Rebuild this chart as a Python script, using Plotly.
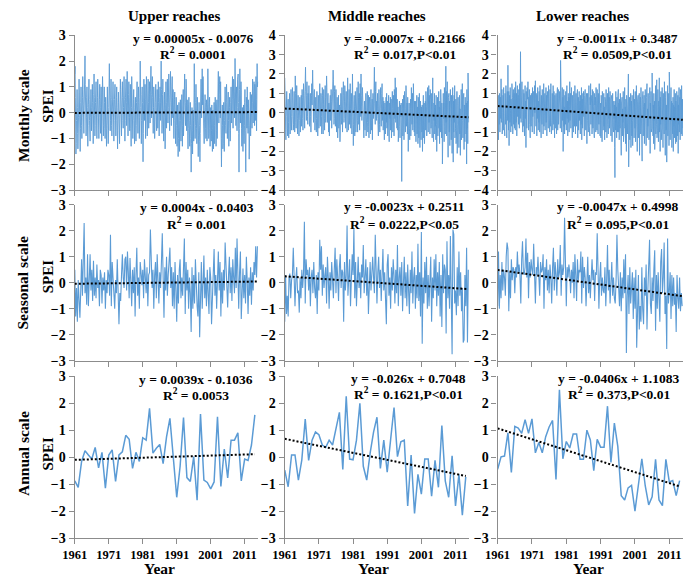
import plotly.graph_objects as go

W, H = 685, 584

# ---------------- data ----------------
years_annual = list(range(1961, 2015))

upper_annual = [-0.88, -1.12, -0.16, 0.24, 0.08, -0.07, 0.36, -0.40, 0.18, -1.15,
                0.08, 0.27, -0.90, 0.08, 0.20, 0.81, 0.66, -0.42, 0.18, -0.16,
                0.72, 0.63, 1.81, 0.15, 0.33, 0.47, -0.24, 0.75, 1.44, 0.00,
                -1.49, -0.34, 1.47, -0.76, -0.90, 0.02, -1.60, 1.60, -0.85, -0.94,
                -1.18, -0.92, 1.50, -1.09, 0.30, -0.77, 0.63, 0.63, 0.90, -0.88,
                -0.07, -0.12, 0.45, 1.57]
middle_annual = [-0.48, -1.10, 0.08, 0.08, -0.85, -0.10, 1.41, -0.12, 0.63, 0.93,
                 0.83, 0.45, 0.36, 0.63, 0.45, 1.11, 1.66, -0.46, 2.26, -0.07,
                 -0.10, 0.63, 2.00, -0.34, -0.85, 0.15, 0.93, 1.48, -0.42, 0.63,
                 -0.56, 0.65, 1.84, 0.02, 0.57, 0.63, -1.81, 0.08, -2.09, -0.64,
                 -1.37, -0.07, -0.07, -1.45, -0.12, -1.12, 1.17, -0.88, -1.49, 0.05,
                 -1.81, -0.64, -2.15, -0.73]
lower_annual = [-0.45, 0.01, 0.04, 0.90, -0.57, 1.14, 1.08, 0.88, 1.39, 0.88,
                1.42, 0.16, 0.54, 0.16, 0.76, 1.12, 1.36, -0.83, 2.50, -0.06,
                0.58, 0.34, 0.86, 0.86, -0.08, -0.08, 1.00, 0.64, -0.50, 0.66,
                0.37, 0.37, 1.89, -0.20, 1.26, 0.40, -1.43, -1.59, -1.14, -1.05,
                -2.00, -0.92, -0.06, -1.07, -1.77, -1.47, -0.08, -1.59, -1.80, -0.08,
                -0.92, -0.87, -1.43, -0.87]

upper_seasonal = [
    0.5, -1.3, -0.2, -1.5,  0.1, -0.6, -1.35, -0.3,  0.9, -0.5, 1.5, 2.3,  -0.4, 0.2, -0.85, 1.1,
    -0.9, 0.3, 1.1, -0.3,  0.5, -0.7, 0.85, -0.5,  0.2, -0.6, 0.7, -0.2,  0.1, -0.9, 0.5, 0.3,
    -0.8, 0.2, -0.3, 0.4,  -1.0, 0.1, -0.4, 0.5,  0.3, -0.5, 1.85, -0.9,  0.8, 0.2, -0.6, -1.0,
    0.1, -0.4, 0.9, -0.6,  -1.6, -0.4, -0.7, 0.3,  1.1, 0.2, -0.2, 0.9,  1.0, -0.3, 1.2, 0.4,
    -0.6, 0.95, 0.1, -0.9,  0.5, -0.4, 0.6, -1.3,  0.3, 1.35, -0.5, 0.2,  -1.0, 0.8, 0.4, -0.1,
    0.5, -0.6, 0.9, 0.2,  -0.4, 0.6, -0.9, 0.3,  0.4, 2.05, 0.9, -0.2,  0.5, -1.0, 0.3, 0.8,
    -0.6, 1.1, 0.1, -0.8,  0.4, -0.2, 0.8, 1.9,  0.2, -1.35, 0.6, -0.3,  1.0, -0.5, 0.3, 0.9,
    1.35, -0.2, 0.6, -0.9,  0.4, -1.0, 0.8, -0.3,  -1.5, 0.3, -0.8, 0.5,  0.9, -0.6, 0.2, -0.5,
    0.3, 1.7, -1.2, 0.8,  -0.3, 0.5, -1.0, 0.2,  -0.4, -1.9, 0.6, -1.0,  0.3, -0.8, 0.9, -0.2,
    -0.9, -1.3, 0.4, -2.1,  -0.5, 0.8, -1.0, 0.3,  1.05, -0.6, 0.2, -0.9,  0.5, -0.4, -1.2, 0.6,
    0.2, -1.6, -0.7, 0.4,  1.3, -0.5, 0.3, -1.0,  0.6, 1.2, -0.3, 0.8,  -1.3, 0.4, -0.8, 0.5,
    -0.3, 1.55, 0.7, -0.5,  -0.95, 0.3, 1.0, -0.4,  0.6, -0.7, 0.9, 0.2,  -0.4, 1.35, -0.2, 1.7,
    -0.05, -1.0, 0.4, 1.2,  -1.4, 0.1, 0.55, -0.6,  0.3, -0.8, 1.0, 0.1,  -1.2, 0.2, -0.5, 0.6,
    -0.85, 0.4, -0.3, 0.8,  0.3, 1.4, 0.2, 1.4]
middle_seasonal = [
    -1.5, 0.3, -1.2, -0.5,  -1.3, 0.2, 0.35, -0.6,  0.1, 0.3, 1.35, -0.3,  -0.9, 0.1, 0.6, -0.4,
    -0.3, -1.15, 0.2, -0.6,  0.5, -0.2, 0.4, 2.35,  -0.8, 0.9, 0.3, 0.5,  -0.3, 0.6, -0.9, 0.2,
    0.5, -0.4, 0.8, -0.2,  -0.6, 0.3, -1.2, 0.4,  -0.3, 1.65, 0.5, 1.4,  -0.5, 0.7, -0.2, 0.3,
    0.6, -0.8, 1.0, 0.2,  -1.0, 0.4, -0.3, 0.8,  0.1, -0.6, 0.5, 1.35,  -0.4, 0.9, 0.2, -0.7,
    0.6, 1.1, -0.2, 0.5,  0.4, -1.5, 0.8, -0.3,  0.3, 2.2, -0.5, 0.6,  0.9, -0.9, 0.4, 1.1,
    0.3, 2.1, -0.6, 0.8,  -0.9, 0.5, 1.0, -0.2,  0.4, -0.6, 0.7, 0.2,  1.45, -0.4, 0.3, 0.9,
    -0.5, 0.6, -1.2, 0.3,  0.8, -0.3, 0.5, 1.0,  0.2, -0.4, 1.85, 0.6,  -0.8, 0.4, 1.0, -0.2,
    0.5, -0.7, 0.3, 1.3,  -0.3, 0.4, -0.6, -1.6,  0.7, 1.1, -0.5, 0.2,  -1.0, 0.6, -0.3, 0.9,
    0.3, -0.8, 0.5, -0.4,  1.45, -0.9, 0.2, 0.6,  -0.5, 0.8, -1.1, 0.3,  1.0, -0.6, 0.4, -0.9,
    0.7, -0.3, -1.2, 0.5,  -0.4, 1.2, -0.8, 0.2,  0.6, -1.0, 0.3, -0.6,  1.5, -0.7, 0.4, -1.3,
    1.95, -2.35, 0.2, -0.8,  0.8, -0.4, 1.0, -1.0,  0.3, -0.9, 0.6, 1.0,  -1.5, 0.2, -0.6, 0.9,
    -0.3, 1.1, -0.9, 0.4,  -0.5, 0.8, -1.3, 0.3,  -1.7, 1.1, -0.4, 0.7,  0.5, -1.95, 1.6, -0.6,
    0.3, -1.0, 1.8, -0.4,  -2.75, 2.05, 1.85, -0.8,  -0.3, -1.25, 0.6, -0.9,  1.2, -0.5, 0.4, -1.1,
    -0.2, -2.3, -2.2, 0.3,  -0.9, 1.35, -2.3, 0.5]
lower_seasonal = [
    -0.9, 1.2, -1.0, 0.3,  -0.6, 0.8, -0.3, 0.5,  0.2, -0.5, 1.0, 1.55,  1.3, -1.1, 0.4, -0.6,
    0.9, 0.1, 0.6, 0.5,  -0.4, 0.6, 0.2, 1.2,  0.4, 0.7, 0.3, -0.8,  0.9, 1.6, 0.4, 0.3,
    0.6, 1.7, 0.2, 1.15,  -0.6, 0.8, 0.2, 0.9,  0.5, 0.3, 1.5, -0.4,  -0.8, 0.6, 0.3, 1.0,
    0.2, -0.5, 0.8, 0.4,  0.5, 1.1, -1.0, 0.6,  0.1, 0.9, -0.3, 0.5,  -0.4, 0.7, 0.2, -0.8,
    0.6, 1.35, -0.3, 0.8,  0.3, -0.5, 0.9, 0.2,  0.4, 1.45, -0.5, 0.7,  0.3, 0.6, 2.5, 0.2,
    -0.9, 0.6, 0.2, 0.7,  0.4, -0.4, 0.5, 0.0,  0.8, -0.6, 1.1, 0.3,  -0.7, 0.9, 0.1, 0.5,
    0.4, 1.2, -0.8, 1.0,  -0.2, 0.6, 0.2, -0.9,  0.7, 1.0, -0.4, 0.3,  -0.6, 0.5, 0.9, 0.1,
    0.5, -0.7, 0.4, 0.3,  1.9, 0.5, -1.0, 0.2,  0.8, -0.5, 0.2, -0.3,  -0.4, 0.6, -0.9, 0.1,
    1.45, -0.3, 0.5, -0.8,  0.3, 0.8, -0.5, 0.2,  -0.6, -0.8, 0.1, 1.85,  0.5, -0.3, -0.9, 0.4,
    -1.1, 0.2, -0.6, 0.9,  -0.4, 1.1, -2.7, -0.5,  0.3, -1.2, 0.6, -0.8,  -0.3, 0.4, -1.4, 0.2,
    -1.0, 0.5, -2.5, -0.6,  0.3, -1.8, -0.9, -1.5,  0.6, -1.0, -1.6, 0.2,  -0.5, 0.7, -1.8, -0.3,
    0.4, 1.65, -0.8, -1.2,  0.2, -0.7, 0.5, 1.25,  -1.85, 0.3, -1.0, 0.4,  -0.6, -1.5, 0.8, 1.3,
    -0.4, 0.2, 1.55, -1.2,  -0.5, -2.55, 1.7, -0.8,  -0.3, 0.4, -1.4, 0.3,  -0.9, 0.2, -0.85, -0.4,
    -1.9, 0.3, -0.6, -1.0,  0.2, -1.1, -0.4, -0.9]

upper_monthly = [
    1.5, 1.8, 0.6, -0.4, -1.6, -1.2, -0.3, 0.5, 0.9, 0.2, -0.8, -1.4,
    -0.9, -0.2, 0.7, 1.3, 0.8, -0.1, -0.9, -1.5, -0.6, 0.4, 1.0, 0.3,
    -0.5, -1.0, -0.2, 0.6, 1.4, 0.9, 0.3, -0.3, -0.8, 0.1, 1.2, 0.7,
    2.2, 1.1, 0.4, -0.4, -0.9, -0.2, 0.6, 1.0, 0.2, -0.6, -1.3, -0.5,
    0.3, 0.8, 1.3, 0.5, -0.3, -0.8, -1.1, -0.2, 0.5, 0.9, 0.2, -0.7,
    -0.3, 0.6, 1.1, 0.4, -0.6, -1.2, -0.4, 0.7, 1.5, 0.6, -0.1, -0.9,
    -0.5, 0.4, 0.9, 1.2, 0.3, -0.8, -1.0, -0.2, 0.6, 1.3, 0.8, 0.1,
    -0.7, -1.0, -0.2, 0.5, 1.1, 0.6, -0.4, -0.8, 0.2, 1.0, 0.3, -1.1,
    -0.3, 0.7, 1.4, 0.8, -0.2, -0.9, -0.5, 0.3, 1.0, 0.4, -0.6, -1.0,
    -0.4, 0.6, 0.2, -0.8, -1.3, -0.6, 0.4, 1.0, 0.3, -0.5, -1.2, -0.7,
    0.2, 0.9, 1.9, 1.0, 0.3, -0.7, -0.3, 0.6, 1.3, 0.5, -0.5, -0.9,
    -0.2, 0.4, 1.0, 1.2, 0.5, -0.6, -1.1, -0.3, 0.5, 0.9, 1.1, 0.3,
    -0.4, -0.9, -0.3, 0.6, 1.0, 0.2, -0.6, -1.4, -0.7, 0.1, 0.8, 0.4,
    -0.1, -0.7, -1.2, -0.4, 0.5, 1.3, 0.9, 0.1, -0.5, -0.9, 0.3, 1.0,
    1.2, 0.6, -0.3, -0.6, 0.2, 0.8, 1.4, 0.5, -0.4, -1.1, -0.3, 0.6,
    0.9, 1.3, 0.4, -0.5, 0.2, 1.6, 1.0, 0.3, -0.9, -0.2, 0.7, 1.2,
    0.6, -0.2, -0.7, 0.3, 1.1, 0.9, -0.6, -1.3, 0.2, 1.4, 0.8, 0.1,
    -0.6, -1.0, -0.3, 0.5, 0.9, 0.2, -0.8, -1.2, -0.4, 0.3, 0.6, -0.4,
    -1.1, -0.5, 0.4, 0.9, 1.2, 0.3, -0.6, -0.8, 0.5, 1.0, 0.4, -0.3,
    -1.0, -0.2, 0.6, 2.0, 1.0, 0.2, -0.5, -1.2, -0.3, 0.7, 1.0, 0.4,
    -0.6, -1.9, -0.8, 0.3, 1.3, 0.6, -0.3, 0.2, 1.1, 0.5, -1.0, -0.2,
    0.5, 1.4, 0.8, -0.4, -0.9, 0.1, 1.0, 1.3, 0.4, -0.6, -0.2, 0.7,
    1.2, 0.1, -0.4, 0.8, 1.5, 1.8, 0.7, -0.2, 0.3, 1.1, 1.4, 0.6,
    -0.3, -0.8, 0.2, 1.0, 0.6, -0.1, -1.0, -0.6, 0.4, 0.8, 1.1, 0.2,
    -0.5, -0.7, 0.3, 0.9, 0.1, -0.6, 0.5, 1.2, 0.4, -0.2, -0.9, 0.0,
    0.6, 1.0, 0.4, -0.3, 0.8, 2.0, 0.9, 0.1, -0.8, -0.4, 0.7, 1.3,
    0.3, -0.5, -1.1, -0.4, 0.5, 0.8, -0.2, -1.4, -0.6, 0.3, 1.2, 0.4,
    -0.6, -0.3, 0.6, 1.3, 0.9, -0.4, 0.2, 0.8, 1.5, 0.7, -0.3, -0.7,
    0.4, 1.1, 1.6, 0.8, 0.2, -0.5, 0.3, 1.0, 1.4, 0.6, -0.2, 0.9,
    0.3, -0.4, -1.0, -0.3, 0.5, 0.8, 0.1, -0.8, -1.2, -0.2, 0.6, 0.3,
    -0.5, -1.3, -0.6, 0.3, -0.4, -1.7, -1.0, -0.2, 0.4, -0.3, -1.5, -0.9,
    -0.2, 0.5, -0.3, -1.1, -0.6, 0.2, 0.7, -0.4, -1.3, -0.5, 0.3, 0.9,
    -0.9, -0.3, 0.4, 1.2, 1.5, 0.6, -0.2, -0.5, 0.4, 1.3, 1.0, -0.7,
    -0.2, 0.5, 0.1, -0.9, -1.4, -0.6, 0.3, 0.6, -0.3, -1.1, -1.3, -0.2,
    0.4, -0.5, -1.0, -2.3, -1.2, -0.4, 0.2, -0.7, -1.6, -0.9, 0.1, -0.3,
    -1.1, 0.3, 1.9, 0.8, -0.2, -1.0, -0.5, 0.4, 1.1, 0.5, -0.6, -1.2,
    -0.3, 0.6, -0.2, -1.4, -1.7, -0.9, 0.2, 0.4, -0.5, -1.1, -1.9, -0.8,
    0.1, 0.8, 1.3, 0.5, -0.2, 1.0, 1.7, 0.6, 0.3, 1.4, 0.8, -0.4,
    -0.8, -1.2, -0.4, 0.1, 0.7, 0.4, -0.6, -1.0, -0.3, 0.5, 0.2, -1.1,
    -0.7, 0.3, 1.7, 0.6, -0.5, -1.0, -0.8, 0.4, 0.6, -0.6, -1.3, -0.4,
    0.2, -0.4, -1.1, -0.7, 0.3, -0.9, -1.5, -0.6, 0.1, -0.4, -1.4, -0.3,
    0.4, -0.5, -1.2, -0.8, 0.6, 0.1, -0.2, -1.3, -0.7, 0.3, 0.5, -1.0,
    -0.3, 0.2, 1.3, 1.6, 0.5, -0.4, 0.7, 1.1, 1.4, 0.3, -0.2, 1.2,
    0.3, -0.6, -2.1, -1.0, -0.3, 0.3, -0.5, -1.4, -1.2, -0.2, 0.4, -0.8,
    -1.5, -0.3, 0.6, 1.0, 0.3, -0.5, -0.8, 0.4, 1.1, 0.7, -0.2, -1.0,
    -0.4, 0.5, 0.8, -0.3, -1.3, -0.6, 0.2, 0.6, -0.3, -1.1, -0.7, 0.4,
    1.0, 0.3, -0.4, 0.2, 0.9, 1.4, 0.5, -0.6, 0.3, 1.3, 1.1, 0.6,
    -0.2, 0.8, 2.1, 1.2, 0.4, -0.5, 0.7, 1.0, 0.3, -0.7, 0.2, 1.3,
    0.8, 1.5, 0.4, -0.8, -2.3, -0.6, 0.9, 1.7, 1.1, -0.4, 0.6, 1.2,
    0.8, -0.6, -1.3, -0.4, 0.2, -1.0, -1.5, -0.4, 0.3, -0.8, -1.2, -0.5,
    0.4, 0.9, -0.7, -1.1, -2.3, -0.6, 0.6, 0.2, -0.6, 1.0, 0.3, -0.4,
    -0.8, 0.5, 0.2, -0.5, -1.8, -1.2, -0.3, 0.6, 0.8, -0.9, -0.6, 0.4,
    0.7, -0.2, -0.6, 0.4, 1.3, 0.8, -0.4, -0.1, 1.0, 1.2, 0.3, -0.5,
    1.1, 0.8, -0.3, 0.2, 1.4, 0.5, -0.7, 0.5, 1.9, 1.0, 1.6, 1.2]
middle_monthly = [
    1.8, 1.2, -0.3, -1.0, -1.4, -0.2, 0.9, 1.1, 0.3, -0.8, -1.2, 0.4,
    0.7, -0.5, -1.3, -0.7, 0.5, 1.0, 0.2, -1.1, -0.3, 0.8, 1.2, -0.2,
    -0.9, -0.4, 0.6, 1.3, 0.8, -0.2, -0.9, -0.6, 0.5, 1.1, 0.3, -1.0,
    0.2, 1.9, 1.0, -0.5, -0.8, 0.3, 1.4, 0.7, -0.3, -1.1, 0.0, 0.9,
    -0.2, -0.9, -1.2, -0.4, 0.3, 0.8, -0.1, -1.0, -0.6, 0.5, 0.9, -0.7,
    0.5, 1.2, 0.8, -0.3, -0.9, 0.1, 1.5, 1.0, 0.4, -0.5, -0.8, 0.9,
    1.3, 2.35, 1.1, 0.3, -0.4, 0.9, 1.6, 0.7, -0.2, -0.6, 1.0, 0.2,
    0.8, 1.4, 0.3, -0.7, -0.4, 0.5, 1.0, -0.2, -1.0, 0.1, 0.9, 1.5,
    0.4, 1.1, 2.2, 1.3, 0.7, -0.5, -0.2, 0.9, 1.2, 0.2, -0.9, -0.4,
    0.3, 0.8, -0.5, -1.0, -0.3, 1.1, 0.6, 0.0, -1.2, -0.3, 0.9, 0.4,
    -0.8, 0.6, 1.2, 1.5, 0.3, -0.7, 0.2, 1.0, 0.8, -0.2, -1.1, 0.5,
    1.3, 0.9, -0.6, -1.1, 0.4, 1.2, 0.7, -0.3, -0.9, 0.2, 1.4, 0.8,
    -0.5, 0.4, 1.1, 1.9, 1.3, 0.2, -0.5, 0.6, 1.0, -0.4, -1.0, 0.5,
    -0.9, -1.2, 0.2, 0.7, 0.9, -0.4, 0.3, 1.2, 0.6, -0.8, -0.2, 1.0,
    0.4, 1.0, 2.2, 1.7, 0.8, -0.6, -0.3, 1.1, 1.4, 0.2, -0.7, 0.5,
    1.2, -0.5, -1.0, 0.1, 0.8, 0.6, -1.3, -0.2, 0.5, 0.9, -0.8, 0.0,
    0.4, -0.7, -1.5, -1.1, 0.3, 1.0, 0.8, -0.6, -0.4, 1.3, 0.2, -1.0,
    0.2, 0.9, 1.6, 1.2, -0.5, -0.3, 0.6, 1.4, 1.0, 0.1, -0.8, 0.4,
    1.1, 0.3, -0.7, -1.0, 0.5, 1.8, 0.7, -0.4, -0.9, 0.2, 1.2, 0.5,
    -0.6, 0.9, 1.5, 0.2, -0.8, -0.3, 1.0, 0.4, -1.1, 0.6, 2.0, 0.7,
    -0.2, -1.7, -0.6, 0.5, 0.9, 0.3, -1.2, -0.5, 1.1, 0.2, -1.0, -0.3,
    0.8, 0.6, 1.3, -0.4, -1.0, 0.1, 1.6, 0.8, -0.6, 0.3, 1.0, -0.9,
    1.2, 1.5, 0.5, -0.2, 2.0, 0.9, 0.3, -0.4, 0.7, 1.3, 0.2, 1.1,
    0.8, -0.8, -1.3, -0.2, 0.6, 0.1, -0.9, -0.4, 0.8, 1.0, -1.2, 0.3,
    -0.2, 0.7, 1.1, -0.5, -1.0, 0.3, 0.9, -0.7, -1.3, 0.5, 0.8, 0.0,
    -0.6, -1.1, 0.6, 1.2, -0.4, -0.9, 0.2, 0.7, -1.4, -0.3, 1.0, 0.3,
    -0.3, 0.9, 1.4, 2.35, 0.5, -0.2, -0.6, 1.1, 1.6, 0.3, -0.4, 0.6,
    -0.1, 0.4, 1.0, -0.3, -0.9, -1.2, 0.5, 1.2, 0.7, -0.6, -1.0, 0.2,
    0.6, 1.3, 0.1, -0.7, 0.4, 1.0, 1.5, -0.4, -0.2, 0.8, -0.9, 0.3,
    0.6, -1.0, -1.4, 0.2, 0.5, -0.6, -1.1, 0.3, 0.8, -0.5, 1.0, -0.8,
    -0.2, 0.6, -1.2, -0.5, 0.3, 0.9, -1.0, -1.5, 0.1, 0.5, -0.3, 0.8,
    -0.9, -0.4, 0.7, -1.3, -0.7, 0.4, 1.1, 0.2, -1.0, -0.2, 0.9, 0.5,
    -1.2, 1.2, 0.8, -0.3, 1.8, 1.0, -0.5, 0.6, 1.3, 0.4, -0.8, 0.7,
    -0.1, -0.9, 0.3, -1.5, -1.1, 0.5, -0.4, 0.6, -0.7, -1.3, 0.2, 0.4,
    -0.2, 0.5, -1.0, -3.55, -0.8, 0.2, 0.7, -1.2, -0.5, 0.3, 0.9, -1.4,
    0.1, 1.1, 0.6, -0.4, -1.0, 0.2, 1.4, 0.9, -0.7, -0.3, 0.5, -1.1,
    0.8, -0.6, -2.0, -1.1, 0.3, 0.5, -0.8, -1.4, -0.5, 0.2, 0.7, -1.2,
    -0.3, 1.3, 0.2, -0.6, 0.4, 1.0, -0.9, 0.1, 1.5, 0.8, -0.4, -1.0,
    0.6, -1.2, -0.8, 0.4, 0.6, -1.5, -0.6, 0.2, 0.9, -1.1, -0.4, 0.3,
    -1.6, 0.8, 0.5, -1.3, -0.7, 1.0, -0.9, -1.8, 0.2, 0.6, -0.9, -1.4,
    0.3, -0.5, -1.0, 0.4, -2.0, -0.7, 0.1, 0.9, -1.3, -0.3, 0.5, -1.6,
    0.2, -0.8, 0.6, -0.9, 1.1, -0.4, 0.3, -1.2, 0.8, -0.6, 1.3, -0.2,
    -1.0, 0.4, 1.4, -0.5, 0.9, 0.2, -1.1, 1.2, -0.3, 0.7, -0.8, 1.0,
    0.1, -0.6, -1.3, 0.6, 1.8, -0.9, 0.3, -1.5, 0.5, -0.4, 1.0, -1.1,
    0.2, -0.7, 0.4, -1.4, 0.9, -0.6, -2.0, 0.5, -0.8, 0.8, -1.2, 0.1,
    -0.5, 1.1, -0.8, 0.3, -1.6, 0.6, -0.4, -1.0, 1.2, -0.7, 0.2, -1.3,
    0.5, -0.2, -2.65, 0.7, -0.9, 1.0, -0.3, 0.5, -1.5, 1.3, -0.6, 0.2,
    -1.1, 0.9, 2.4, -0.5, 1.1, -1.2, 0.4, 1.6, -0.8, 0.3, -2.3, 0.8,
    -0.4, 1.0, -1.0, 0.6, -1.7, 0.2, 1.2, -0.9, 0.5, -1.4, 0.9, -0.3,
    -2.1, 0.4, 1.3, -0.7, -2.55, 0.6, -1.0, 0.9, -0.5, 1.4, -1.3, 0.2,
    -0.8, 0.7, -1.6, 0.4, -0.9, 1.1, -2.1, 0.3, -0.6, 0.8, -1.2, 0.5,
    -1.8, 0.1, 0.9, -1.1, 0.2, -2.2, 0.6, -0.5, 1.2, -1.4, 0.3, -0.9,
    1.5, -0.4, -1.3, 0.7, -0.6, 1.0, -1.9, 0.4, -0.2, -1.5, 0.8, -0.7,
    0.3, -1.1, 0.5, -2.65, 1.2, -0.8, 0.6, -1.6, 2.05, -0.3, 0.9, -0.5]
lower_monthly = [
    1.1, -0.8, 0.5, -1.4, 0.9, 0.3, -0.6, 1.0, -1.0, 0.4, 0.8, -0.3,
    1.75, -0.5, 0.2, 1.2, -1.1, 0.6, -0.4, 0.9, -0.9, 1.3, 0.1, -0.7,
    0.8, -1.2, 1.0, 0.3, -0.6, 1.4, -0.2, 0.7, -1.3, 0.5, 1.1, -0.4,
    2.45, 0.2, -0.9, 1.1, -1.7, 0.6, 0.9, -0.5, 1.3, 0.1, -1.0, 0.7,
    0.4, -0.7, 1.5, -0.3, 0.8, -1.1, 0.5, 1.2, -0.6, 0.3, 1.0, -0.8,
    1.3, 0.0, -0.9, 1.6, 0.4, -0.5, 1.0, -1.2, 0.7, 1.4, -0.2, 0.6,
    0.9, -0.6, 1.2, 0.2, -0.8, 1.5, 0.5, -0.3, 3.15, 0.8, -0.5, 1.1,
    0.3, 1.6, -0.4, 0.9, -1.0, 1.2, 0.1, -0.7, 1.0, 0.4, -1.2, 0.8,
    1.4, -0.3, 0.6, -1.8, 1.1, 0.2, -0.8, 1.3, -0.5, 0.7, 1.6, -0.1,
    -0.9, 0.8, 0.2, 1.2, -0.6, 0.5, -1.3, 0.9, 0.3, -0.7, 1.0, 0.4,
    0.6, -1.0, 1.3, -0.2, 0.8, 1.1, -0.6, 0.3, -1.1, 1.4, 0.0, 0.7,
    1.65, 0.2, -0.7, 1.0, 0.5, -1.2, 0.9, -0.3, 1.3, 0.4, -0.9, 0.6,
    -0.5, 1.1, 0.3, -1.0, 1.4, -0.2, 0.7, 0.0, -1.3, 0.9, 0.5, -0.6,
    1.2, -0.4, 0.8, -1.1, 0.3, 1.5, -0.7, 0.6, -0.2, 1.0, -0.9, 0.4,
    0.7, 1.3, -0.5, 0.9, -1.2, 0.4, 1.1, -0.3, 0.8, -0.8, 1.4, 0.1,
    -0.6, 0.9, -1.0, 1.2, 0.3, -0.7, 1.5, 0.2, -1.1, 0.6, -0.4, 1.0,
    0.5, -0.9, 1.4, 0.0, -0.6, 1.1, 0.4, -1.3, 0.9, -0.2, 0.7, -0.8,
    1.0, 0.3, -1.1, 0.8, -0.4, 1.3, -0.9, 0.5, 1.2, -0.6, 0.2, 0.9,
    -0.3, 1.1, 0.4, -0.8, 2.7, 0.2, -0.5, 1.0, -1.0, 0.6, 1.3, -0.4,
    0.8, -2.0, 0.5, 1.2, -0.7, 0.3, -1.1, 0.9, 0.0, -0.6, 1.1, 0.2,
    -0.9, 0.7, 1.4, -0.3, 0.6, -1.2, 0.4, 1.0, -0.5, 0.8, -1.0, 0.3,
    1.6, -0.4, 0.2, 1.0, -0.8, 0.5, 1.3, -0.6, 0.1, -1.3, 0.9, 0.4,
    0.3, -1.0, 1.1, -0.2, 0.8, -0.7, 1.4, 0.0, -1.1, 0.6, 1.0, -0.5,
    -0.7, 0.9, -0.3, 1.2, -1.3, 0.4, 0.8, -0.9, 0.5, 1.1, -0.4, 0.2,
    0.6, -1.1, 0.9, 0.2, -0.6, 1.3, -1.4, 0.3, 0.7, -0.8, 1.0, -0.2,
    1.1, -0.5, 0.4, -1.2, 0.9, -0.3, 1.2, 0.1, -0.9, 0.7, -0.6, 1.0,
    -1.6, 0.5, 1.0, -0.4, 0.6, -1.0, 0.3, 1.4, -0.7, 0.2, -1.2, 0.8,
    0.4, 1.5, -0.6, 0.9, -0.2, 0.5, -1.1, 1.2, 0.0, -0.8, 1.1, 0.3,
    -0.8, 0.6, -1.3, 1.0, 0.4, -0.5, 0.8, -1.0, 1.3, -0.3, 0.5, -0.9,
    1.2, -0.2, 0.7, -1.1, 1.0, 0.3, -0.6, 1.5, -0.4, 0.8, -1.2, 0.2,
    0.5, -1.3, 0.9, -0.5, 0.2, -1.5, 1.1, -0.3, 0.6, -0.9, 0.4, 1.0,
    -0.7, 0.3, -1.4, 0.8, -0.2, 0.6, -1.0, 1.2, -0.5, 0.1, -1.3, 0.7,
    1.0, -0.6, 0.4, -1.1, 1.3, -0.3, 0.8, -0.8, 0.2, 1.1, -0.5, 0.3,
    -1.2, 0.7, -0.4, 0.9, -1.5, 0.2, 1.0, -0.7, 0.5, -1.0, 0.6, -0.3,
    0.4, -1.8, -3.35, 0.6, -0.9, 1.1, -0.5, 0.3, -1.3, 0.8, -0.2, -1.0,
    0.9, -0.4, 1.2, -1.0, 0.5, -1.4, 0.7, 0.1, -0.8, 1.0, -0.6, 0.3,
    -2.2, 0.5, -0.9, 0.8, -1.2, 0.2, -0.5, 1.1, -1.5, 0.4, -0.7, 0.6,
    1.3, -0.8, 0.3, -1.6, 0.7, -0.3, -2.0, 0.9, -0.6, 0.2, -1.1, 0.5,
    -1.0, 2.0, -2.8, 0.4, -0.7, 0.8, -1.4, 0.1, -0.5, 1.0, -1.8, 0.3,
    0.6, -1.2, 0.9, -0.4, -1.7, 0.5, -0.9, 1.2, -0.3, -1.3, 0.7, -0.6,
    -0.8, 1.1, -1.5, 0.3, -0.6, 1.4, -1.0, 0.2, -2.0, 0.6, -0.4, 0.9,
    -1.3, 0.4, -0.7, 1.0, -2.2, 0.5, -0.3, 0.8, -1.1, 1.3, -0.6, 0.1,
    -0.9, -2.5, 0.7, -0.4, 1.1, -1.2, 0.3, -0.8, 0.9, -1.6, 0.5, -0.2,
    1.2, -1.0, 0.4, -1.7, 0.8, -0.5, 1.5, -1.3, 0.2, -0.7, 1.0, -1.1,
    0.3, -1.4, 0.9, -0.6, 1.3, -2.1, 0.5, -0.3, 1.1, -1.0, 0.2, -0.8,
    2.05, -0.5, 0.7, -1.2, 0.4, -1.6, 1.0, -0.4, 0.6, -1.9, 0.3, -0.7,
    1.4, -1.1, 0.2, -0.6, 1.7, -1.3, 0.5, -0.9, 1.2, -0.2, -1.5, 0.6,
    -0.4, 1.8, -1.0, 0.3, -2.0, 0.8, -0.6, 1.1, -1.4, 0.4, -0.8, 1.3,
    -1.2, 0.6, -1.8, 1.0, -0.3, 0.5, -1.1, 1.6, -0.7, 0.2, -2.2, 0.8,
    1.1, -0.9, 0.4, -2.55, 0.7, -0.5, 1.4, -1.2, 0.3, -0.6, 1.0, -1.7,
    2.1, -0.6, 0.9, -1.4, 0.2, -1.0, 1.3, -0.4, 0.6, -1.8, 0.5, -0.9,
    -1.1, 0.8, -2.0, 0.4, -0.7, 1.2, -1.3, 0.3, -0.5, 1.0, -1.6, 0.6,
    0.2, -1.5, 1.1, -0.8, 0.5, -1.2, 0.9, -2.1, 0.4, -0.6, 1.3, -1.0,
    -0.5, 0.8, -1.4, 1.2, -0.9, 0.6, -1.1, 1.4, -0.3, -1.2, 0.7, -0.8]

# trend equations (slope, intercept) over sequence index 1..N
trend = {
    ("M", 0): (0.00005, -0.0076), ("M", 1): (-0.0007, 0.2166), ("M", 2): (-0.0011, 0.3487),
    ("S", 0): (0.0004, -0.0403), ("S", 1): (-0.0023, 0.2511), ("S", 2): (-0.0047, 0.4998),
    ("A", 0): (0.0039, -0.1036), ("A", 1): (-0.026, 0.7048), ("A", 2): (-0.0406, 1.1083),
}
eq_line1 = {
    ("M", 0): "y = 0.00005x - 0.0076", ("M", 1): "y = -0.0007x + 0.2166", ("M", 2): "y = -0.0011x + 0.3487",
    ("S", 0): "y = 0.0004x - 0.0403", ("S", 1): "y = -0.0023x + 0.2511", ("S", 2): "y = -0.0047x + 0.4998",
    ("A", 0): "y = 0.0039x - 0.1036", ("A", 1): "y = -0.026x + 0.7048", ("A", 2): "y = -0.0406x + 1.1083",
}
eq_line2 = {
    ("M", 0): "R<sup>2</sup> = 0.0001", ("M", 1): "R<sup>2</sup> = 0.017,P<0.01", ("M", 2): "R<sup>2</sup> = 0.0509,P<0.01",
    ("S", 0): "R<sup>2</sup> = 0.001", ("S", 1): "R<sup>2</sup> = 0.0222,P<0.05", ("S", 2): "R<sup>2</sup> = 0.095,P<0.01",
    ("A", 0): "R<sup>2</sup> = 0.0053", ("A", 1): "R<sup>2</sup> = 0.1621,P<0.01", ("A", 2): "R<sup>2</sup> = 0.373,P<0.01",
}
col_titles = ["Upper reaches", "Middle reaches", "Lower reaches"]
row_titles = ["Monthly scale", "Seasonal scale", "Annual scale"]
year_ticks = [1961, 1971, 1981, 1991, 2001, 2011]

series = {
    ("M", 0): upper_monthly, ("M", 1): middle_monthly, ("M", 2): lower_monthly,
    ("S", 0): upper_seasonal, ("S", 1): middle_seasonal, ("S", 2): lower_seasonal,
    ("A", 0): upper_annual, ("A", 1): middle_annual, ("A", 2): lower_annual,
}
per_year = {"M": 12, "S": 4, "A": 1}
line_w = {"M": 0.9, "S": 1.1, "A": 1.5}
rows = ["M", "S", "A"]

# ---------------- layout geometry (pixels) ----------------
col_px = [(63, 250), (277, 465), (494, 683)]
row_px = [(29, 188), (203, 363), (379, 545)]

def px(x):
    return x / W

def py(y):
    return 1 - y / H

FONT = "Liberation Serif, Times New Roman, serif"
BLUE = "#5B9BD5"
AXC = "#8C8C8C"

fig = go.Figure()
layout = dict(width=W, height=H, margin=dict(l=0, r=0, t=0, b=0),
              paper_bgcolor="white", plot_bgcolor="white", showlegend=False)
annotations = []

k = 0
for r, sc in enumerate(rows):
    for c in range(3):
        k += 1
        xa = "x" if k == 1 else f"x{k}"
        ya = "y" if k == 1 else f"y{k}"
        vals = series[(sc, c)]
        n = per_year[sc]
        xs = [1961 + i / n for i in range(len(vals))]
        fig.add_trace(go.Scatter(x=xs, y=vals, mode="lines",
                                 line=dict(color=BLUE, width=line_w[sc]),
                                 xaxis=xa, yaxis=ya, hoverinfo="skip"))
        m, b0 = trend[(sc, c)]
        idx = [1, len(vals)]
        fig.add_trace(go.Scatter(x=[xs[0], xs[-1]], y=[m * i + b0 for i in idx], mode="lines",
                                 line=dict(color="black", width=2, dash="2px,2px"),
                                 xaxis=xa, yaxis=ya, hoverinfo="skip"))
        yr = 4 if (sc == "M" and c > 0) else 3
        x0, x1 = col_px[c]
        y0, y1 = row_px[r]
        layout["xaxis" if k == 1 else f"xaxis{k}"] = dict(
            domain=[px(x0), px(x1)], anchor=ya, range=[1961, 2015],
            tickvals=year_ticks, showticklabels=(r == 2),
            ticks="outside", ticklen=5, tickwidth=1.3, tickcolor=AXC,
            showline=True, linecolor=AXC, linewidth=1.3, showgrid=False, zeroline=False,
            tickfont=dict(family=FONT, size=12.5, color="black", weight="bold"))
        layout["yaxis" if k == 1 else f"yaxis{k}"] = dict(
            domain=[py(y1), py(y0)], anchor=xa, range=[-yr, yr], dtick=1,
            ticks="outside", ticklen=5, tickwidth=1.3, tickcolor=AXC,
            showline=True, linecolor=AXC, linewidth=1.3, showgrid=False, zeroline=False,
            tickfont=dict(family=FONT, size=14, color="black", weight="bold"))

eq_pos = {
    (0, 0): (183, 32, 48), (0, 1): (399.5, 32, 48), (0, 2): (616.7, 32, 48),
    (1, 0): (187.5, 206, 222), (1, 1): (399.5, 205, 222), (1, 2): (616.7, 205, 222),
    (2, 0): (187, 382, 398), (2, 1): (403, 381, 397), (2, 2): (617.5, 381, 397),
}
EQF = dict(family=FONT, size=13.5, color="black", weight="bold")
for r, sc in enumerate(rows):
    for c in range(3):
        xc, l1, l2 = eq_pos[(r, c)]
        annotations.append(dict(x=px(xc), y=py(l1), xref="paper", yref="paper", showarrow=False,
                                text=eq_line1[(sc, c)], xanchor="center", yanchor="middle", font=EQF))
        annotations.append(dict(x=px(xc), y=py(l2), xref="paper", yref="paper", showarrow=False,
                                text=eq_line2[(sc, c)], xanchor="center", yanchor="middle", font=EQF))

for c, (t, xc) in enumerate(zip(col_titles, [165, 371, 581])):
    annotations.append(dict(x=px(xc), y=py(9), xref="paper", yref="paper", showarrow=False,
                            text=t, xanchor="center", yanchor="middle",
                            font=dict(family=FONT, size=15, color="black", weight="bold")))
for r, (t, yc, ys) in enumerate(zip(row_titles, [111, 283, 458], [101, 276, 458])):
    annotations.append(dict(x=px(10), y=py(yc), xref="paper", yref="paper", showarrow=False,
                            text=t, textangle=-90, xanchor="center", yanchor="middle",
                            font=dict(family=FONT, size=15.5, color="black", weight="bold")))
    annotations.append(dict(x=px(36), y=py(ys), xref="paper", yref="paper", showarrow=False,
                            text="SPEI", textangle=-90, xanchor="center", yanchor="middle",
                            font=dict(family=FONT, size=15, color="black", weight="bold")))
for xc in [149, 367, 587]:
    annotations.append(dict(x=px(xc), y=py(576), xref="paper", yref="paper", showarrow=False,
                            text="Year", xanchor="center", yanchor="middle",
                            font=dict(family=FONT, size=15.5, color="black", weight="bold")))

layout["annotations"] = annotations
fig.update_layout(**layout)
fig.write_html("out.html", config={"displayModeBar": False},
               post_script="document.body.style.margin='0';")
